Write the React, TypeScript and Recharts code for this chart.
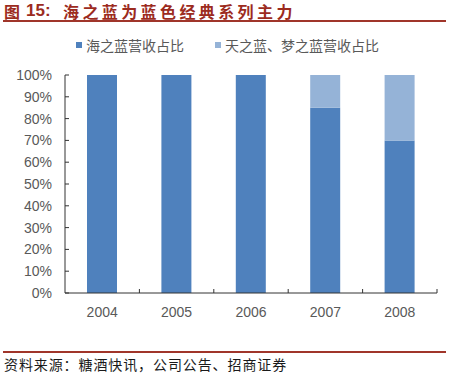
import React from "react";
import { BarChart, Bar, XAxis, YAxis } from "recharts";

const years = ["2004", "2005", "2006", "2007", "2008"];
const haiZhiLanShare = [1, 1, 1, 0.85, 0.7];
const tianMengShare = [0, 0, 0, 0.15, 0.3];
const yTicks = [0, 0.1, 0.2, 0.3, 0.4, 0.5, 0.6, 0.7, 0.8, 0.9, 1];

const seriesNames = ["海之蓝营收占比", "天之蓝、梦之蓝营收占比"];
const seriesColors = ["#4F81BD", "#95B3D7"];

const W = 451;
const H = 376;
const LEFT = 65;
const RIGHT = 14;
const TOP = 75;
const BOTTOM = 83;
const BAND = (W - LEFT - RIGHT) / years.length;
const AXIS_Y = H - BOTTOM;

const data = years.map((year, i) => ({
  year,
  hai: haiZhiLanShare[i],
  tianMeng: tianMengShare[i],
}));

const YTick = (props: any) => {
  const { y, payload } = props;
  return (
    <g>
      <line x1={LEFT} x2={LEFT + 4} y1={y} y2={y} stroke="#333" />
      <text
        x={52}
        y={y}
        dy={5}
        textAnchor="end"
        fontSize={14}
        fill="#595959"
        fontFamily="Liberation Sans, Arial, sans-serif"
      >
        {Math.round(payload.value * 100)}%
      </text>
    </g>
  );
};

const XTick = (props: any) => {
  const { x, payload } = props;
  return (
    <g>
      <line
        x1={x + BAND / 2}
        x2={x + BAND / 2}
        y1={AXIS_Y}
        y2={AXIS_Y - 4}
        stroke="#333"
      />
      <text
        x={x}
        y={AXIS_Y + 24}
        textAnchor="middle"
        fontSize={14}
        fill="#595959"
        fontFamily="Liberation Sans, Arial, sans-serif"
      >
        {payload.value}
      </text>
    </g>
  );
};

const titleStyle: React.CSSProperties = {
  position: "absolute",
  top: 1,
  fontSize: 16,
  lineHeight: "20px",
  fontWeight: 700,
  color: "#9C2B1E",
  whiteSpace: "nowrap",
};

const App = () => {
  return (
    <div
      style={{
        position: "relative",
        width: W,
        height: H,
        background: "#fff",
        fontFamily: "'Noto Sans CJK SC', sans-serif",
      }}
    >
      <style>{"body{margin:0}"}</style>
      {/* title */}
      <div style={{ ...titleStyle, left: 4 }}>图</div>
      <div
        style={{
          ...titleStyle,
          left: 26,
          fontSize: 17,
          fontFamily: "Liberation Sans, Arial, sans-serif",
        }}
      >
        15:
      </div>
      <div style={{ ...titleStyle, left: 63, letterSpacing: 3.4 }}>
        海之蓝为蓝色经典系列主力
      </div>
      <div
        style={{
          position: "absolute",
          left: 3,
          top: 20,
          width: 443,
          height: 2,
          background: "#A0352A",
        }}
      />

      {/* legend */}
      {seriesNames.map((name, i) => (
        <div
          key={name}
          style={{
            position: "absolute",
            left: i === 0 ? 76 : 215,
            top: 35,
            display: "flex",
            alignItems: "center",
            fontSize: 14,
            color: "#595959",
            whiteSpace: "nowrap",
          }}
        >
          <span
            style={{
              display: "inline-block",
              width: 6,
              height: 6,
              background: seriesColors[i],
              marginRight: 4,
            }}
          />
          {name}
        </div>
      ))}

      <BarChart
        width={W}
        height={H}
        data={data}
        margin={{ top: TOP, right: RIGHT, left: 0, bottom: BOTTOM - 30 }}
        style={{ position: "absolute", left: 0, top: 0 }}
      >
        <YAxis
          width={LEFT}
          type="number"
          domain={[0, 1]}
          ticks={yTicks}
          interval={0}
          axisLine={{ stroke: "#333" }}
          tickLine={false}
          tick={<YTick />}
        />
        <XAxis
          dataKey="year"
          height={30}
          axisLine={{ stroke: "#333" }}
          tickLine={false}
          tick={<XTick />}
          interval={0}
        />
        <Bar
          dataKey="hai"
          name={seriesNames[0]}
          stackId="a"
          fill={seriesColors[0]}
          barSize={30}
          isAnimationActive={false}
        />
        <Bar
          dataKey="tianMeng"
          name={seriesNames[1]}
          stackId="a"
          fill={seriesColors[1]}
          barSize={30}
          isAnimationActive={false}
        />
      </BarChart>

      {/* source */}
      <div
        style={{
          position: "absolute",
          left: 3,
          top: 351,
          width: 443,
          height: 2,
          background: "#A0352A",
        }}
      />
      <div
        style={{
          position: "absolute",
          left: 4,
          top: 355,
          fontSize: 14,
          lineHeight: "18px",
          color: "#1a1a1a",
          letterSpacing: 0.9,
          whiteSpace: "nowrap",
        }}
      >
        资料来源：糖酒快讯，公司公告、招商证券
      </div>
    </div>
  );
};

export default App;
